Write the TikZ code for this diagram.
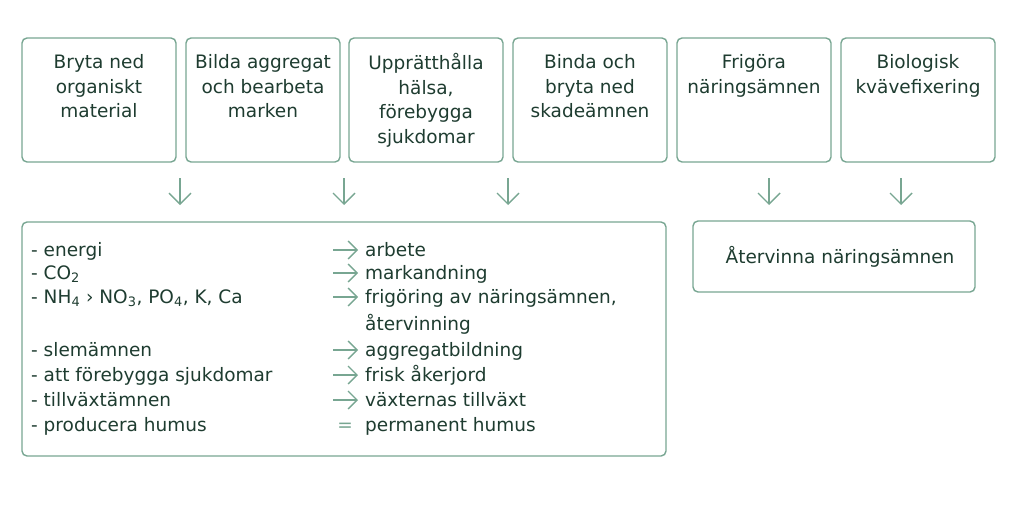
\documentclass[tikz,border=0pt]{standalone}
\usepackage{fontspec}
\setmainfont{DejaVu Sans}
\usetikzlibrary{arrows.meta,calc}
\definecolor{linegreen}{RGB}{120,166,146}
\definecolor{textgreen}{RGB}{30,60,48}
\tikzset{
  frame/.style={draw=linegreen,line width=1.4pt,rounded corners=5pt,inner sep=0pt},
  topbox/.style={frame,minimum width=154pt,minimum height=124pt},
  boxtext/.style={text=textgreen,align=center,anchor=north,inner sep=0pt,font=\fontsize{18.5}{24.5}\selectfont},
  rowtext/.style={text=textgreen,anchor=base west,inner sep=0pt,font=\fontsize{18.5}{21}\selectfont},
  downarrow/.style={draw=linegreen,line width=1.4pt,-{Straight Barb[length=11pt,width=22pt]}},
  rowarrow/.style={draw=linegreen,line width=1.3pt,-{Straight Barb[length=9pt,width=18pt]}}
}

\begin{document}
\begin{tikzpicture}[x=1pt,y=-1pt]
\useasboundingbox (0,0) rectangle (1024,514);

%top row of boxes
\node[topbox] (bryta) at (99,100) {};
\node[topbox] (bilda) at (263,100) {};
\node[topbox] (halsa) at (426,100) {};
\node[topbox] (binda) at (590,100) {};
\node[topbox] (frigora) at (754,100) {};
\node[topbox] (kvave) at (918,100) {};

\node[boxtext] at ($(bryta.north)+(0,17)$) {Bryta ned\\organiskt\\material};
\node[boxtext] at ($(bilda.north)+(0,17)$) {Bilda aggregat\\och bearbeta\\marken};
\node[boxtext] at ($(halsa.north)+(0,16)$) {Upprätthålla\\hälsa,\\förebygga\\sjukdomar};
\node[boxtext] at ($(binda.north)+(0,17)$) {Binda och\\bryta ned\\skadeämnen};
\node[boxtext] at ($(frigora.north)+(0,17)$) {Frigöra\\näringsämnen};
\node[boxtext] at ($(kvave.north)+(0,17)$) {Biologisk\\kvävefixering};

%arrows down
\foreach \x/\n in {180/a,344/b,508/c,769/d,901/e}{
  \coordinate (\n top) at (\x,178);
  \coordinate (\n end) at (\x,205);
  \draw[downarrow] (\n top) -- (\n end);
}

%lower boxes
\node[frame,minimum width=644pt,minimum height=234pt] (effects) at (344,339) {};
\node[frame,minimum width=282pt,minimum height=71pt] (recycle) at (834,256.5) {};
\node[text=textgreen,inner sep=0pt,font=\fontsize{18.5}{21}\selectfont] (recycletext) at (840,257) {Återvinna näringsämnen};

%what the organisms give
\node[rowtext] (energi) at (31,256) {- energi};
\node[rowtext] (co) at (31,279) {- CO\textsubscript{2}};
\node[rowtext] (nh) at (31,303) {- NH\textsubscript{4} › NO\textsubscript{3}, PO\textsubscript{4}, K, Ca};
\node[rowtext] (slem) at (31,356) {- slemämnen};
\node[rowtext] (sjuk) at (31,381) {- att förebygga sjukdomar};
\node[rowtext] (tillv) at (31,406) {- tillväxtämnen};
\node[rowtext] (humus) at (31,431) {- producera humus};

%and what it leads to
\node[rowtext] (arbete) at (365,256) {arbete};
\node[rowtext] (andning) at (365,279) {markandning};
\node[rowtext] (frig) at (365,303) {frigöring av näringsämnen,};
\node[rowtext] (aterv) at (365,330) {återvinning};
\node[rowtext] (aggr) at (365,356) {aggregatbildning};
\node[rowtext] (frisk) at (365,381) {frisk åkerjord};
\node[rowtext] (vaxt) at (365,406) {växternas tillväxt};
\node[rowtext] (perm) at (365,431) {permanent humus};

\foreach \y in {256,279,303,356,381,406}{
  \draw[rowarrow] (333,\y-6) -- (358,\y-6);
}
\node[text=linegreen,anchor=base,inner sep=0pt,font=\fontsize{18.5}{21}\selectfont] (equal) at (345,431) {=};

\end{tikzpicture}
\end{document}
